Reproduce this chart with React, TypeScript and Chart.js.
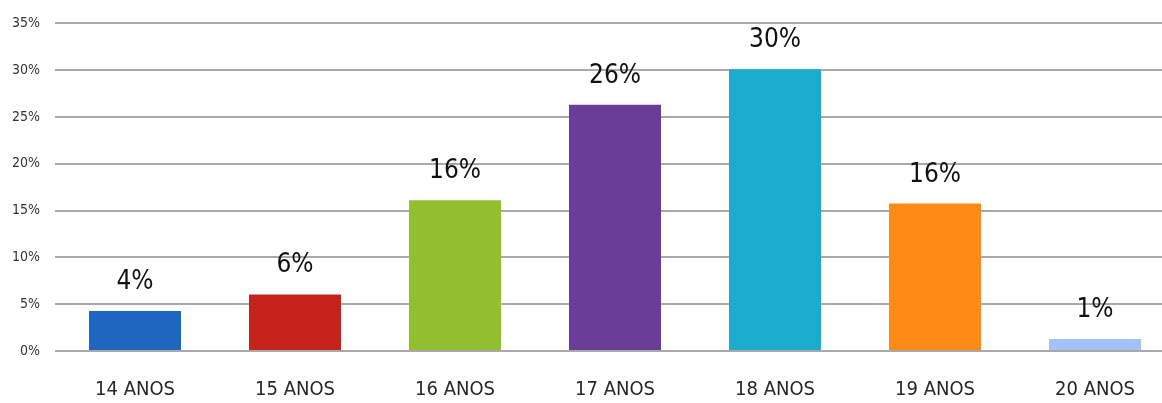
import React, { useEffect, useRef } from "react";
import { Chart, registerables } from "chart.js";

Chart.register(...registerables);

const categories = ["14 ANOS", "15 ANOS", "16 ANOS", "17 ANOS", "18 ANOS", "19 ANOS", "20 ANOS"];
const values = [4.27, 6.04, 16.1, 26.3, 30.1, 15.75, 1.28];
const barColors = ["#1f66c1", "#c5221c", "#93bf2f", "#6a3e98", "#1aabcf", "#fd8a15", "#a2c3fa"];
const yTicks = [0, 5, 10, 15, 20, 25, 30, 35];

const FONT = "'DejaVu Sans Condensed', 'Liberation Sans Narrow', 'DejaVu Sans', sans-serif";

const valueLabelPlugin = {
  id: "valueLabels",
  afterDatasetsDraw(chart: any) {
    const ctx = chart.ctx;
    const meta = chart.getDatasetMeta(0);
    ctx.save();
    ctx.font = `26px ${FONT}`;
    ctx.fillStyle = "#111111";
    ctx.textAlign = "center";
    ctx.textBaseline = "alphabetic";
    meta.data.forEach((bar: any, i: number) => {
      const v = chart.data.datasets[0].data[i];
      ctx.fillText(`${Math.round(v)}%`, bar.x, bar.y - 22);
    });
    ctx.restore();
  },
};

export default function App() {
  const canvasRef = useRef<HTMLCanvasElement | null>(null);

  useEffect(() => {
    if (!canvasRef.current) return;
    const chart = new Chart(canvasRef.current, {
      type: "bar",
      data: {
        labels: categories,
        datasets: [
          {
            data: values,
            backgroundColor: barColors,
            borderWidth: 0,
            barPercentage: 0.575,
            categoryPercentage: 1,
          },
        ],
      },
      options: {
        animation: false,
        responsive: false,
        maintainAspectRatio: false,
        layout: { padding: { top: 23, right: 25, bottom: 0, left: 0 } },
        plugins: { legend: { display: false }, tooltip: { enabled: false } },
        scales: {
          x: {
            grid: { display: false, drawTicks: false },
            border: { display: false },
            ticks: {
              color: "#262626",
              font: { family: FONT, size: 20 },
              padding: 27,
              maxRotation: 0,
              autoSkip: false,
            },
            afterFit(scale: any) {
              scale.height = 52;
            },
          },
          y: {
            min: 0,
            max: 35,
            afterBuildTicks(scale: any) {
              scale.ticks = yTicks.map((v) => ({ value: v }));
            },
            grid: { color: "#a9a9a9", lineWidth: 2, drawTicks: false },
            border: { display: false },
            ticks: {
              color: "#333333",
              font: { family: FONT, size: 14 },
              padding: 15,
              callback: (v: any) => `${v}%`,
            },
            afterFit(scale: any) {
              scale.width = 55;
            },
          },
        },
      },
      plugins: [valueLabelPlugin],
    });
    return () => chart.destroy();
  }, []);

  return (
    <div
      style={{
        position: "fixed",
        left: 0,
        top: 0,
        width: 1162,
        height: 403,
        overflow: "hidden",
        background: "#ffffff",
      }}
    >
      <canvas ref={canvasRef} width={1200} height={403} style={{ display: "block", width: 1200, height: 403 }} />
    </div>
  );
}
